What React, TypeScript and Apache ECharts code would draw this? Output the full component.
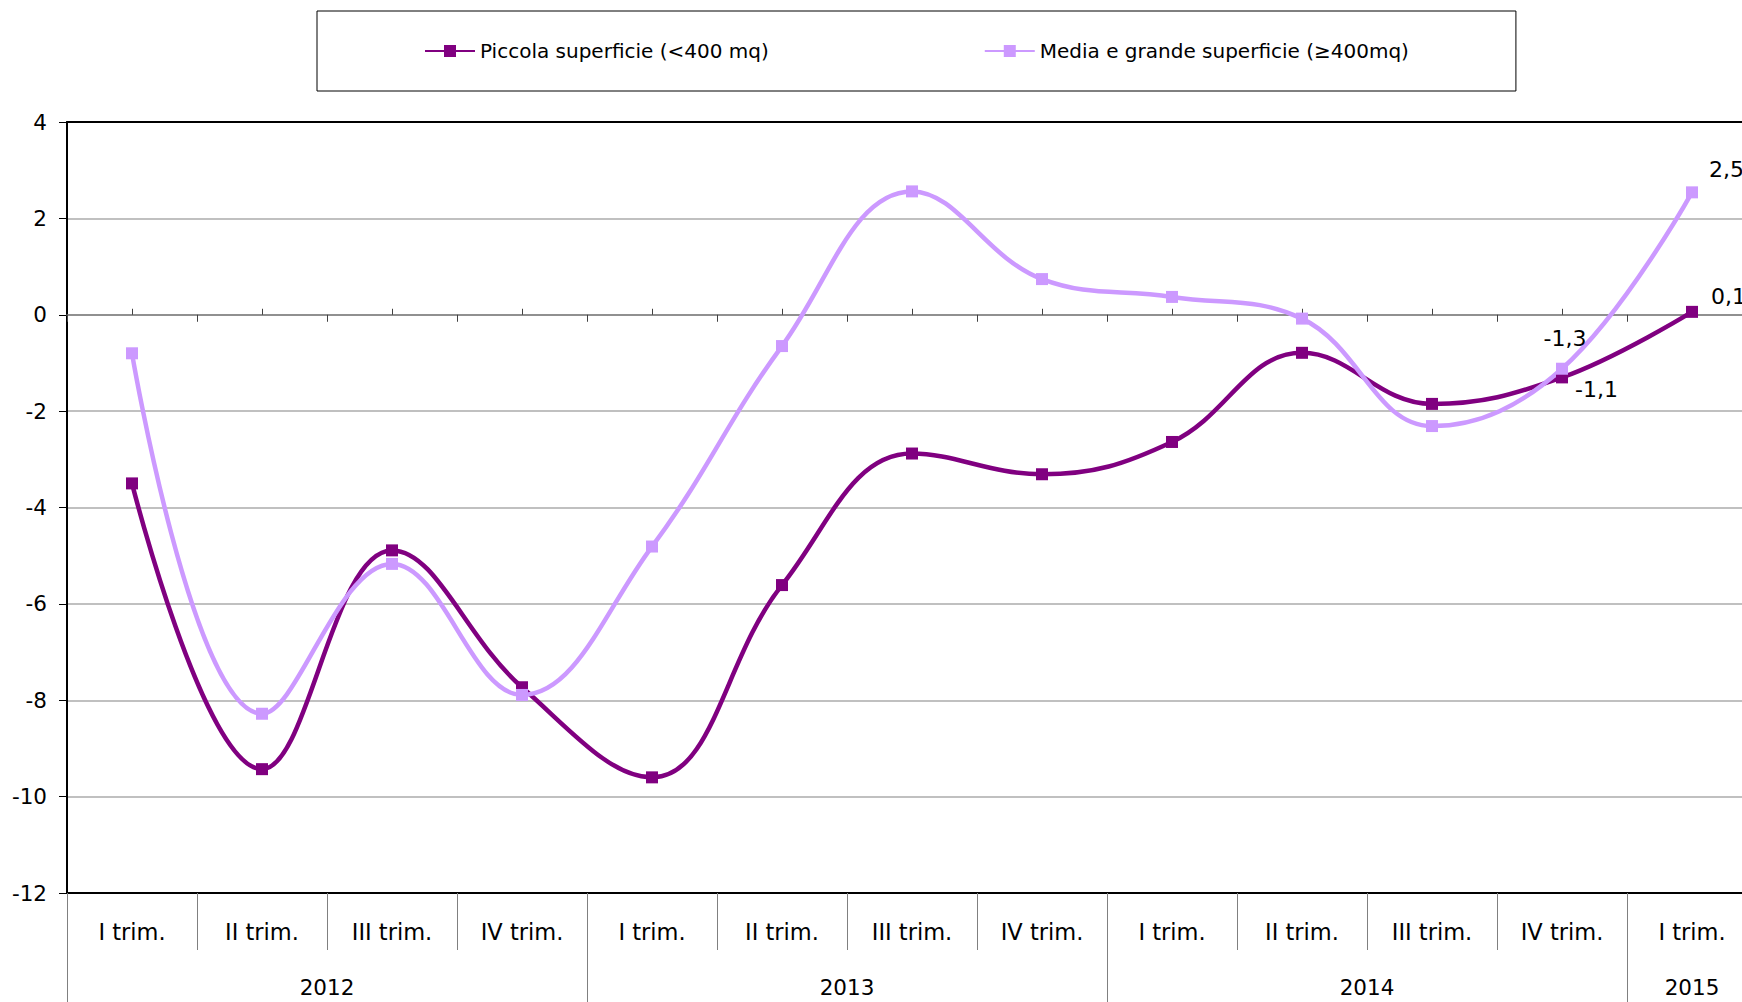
import React, { useEffect, useRef } from 'react';
import * as echarts from 'echarts';

// ---- data ----
const quarters = [
  'I trim.', 'II trim.', 'III trim.', 'IV trim.',
  'I trim.', 'II trim.', 'III trim.', 'IV trim.',
  'I trim.', 'II trim.', 'III trim.', 'IV trim.',
  'I trim.',
];
const years = ['2012', '2013', '2014', '2015'];
const quartersPerYear = [4, 4, 4, 1];
const seriesNames = ['Piccola superficie (<400 mq)', 'Media e grande superficie (≥400mq)'];
const piccola = [-3.5, -9.43, -4.89, -7.73, -9.6, -5.61, -2.88, -3.31, -2.64, -0.79, -1.85, -1.3, 0.06];
const media = [-0.8, -8.28, -5.17, -7.89, -4.81, -0.65, 2.56, 0.74, 0.37, -0.08, -2.31, -1.12, 2.54];
const yMin = -12;
const yMax = 4;
const yStep = 2;
const labelledIndexes = [11, 12];

// ---- styles ----
const FONT = 'DejaVu Sans';
const DARK = '#800080';
const LIGHT = '#CC99FF';
const piccolaLabelStyle: Record<number, any> = {
  11: { position: 'top', distance: 22, offset: [3, 0] },
  12: { position: 'right', distance: 13, offset: [0, -15] },
};
const mediaLabelStyle: Record<number, any> = {
  11: { position: 'right', distance: 7, offset: [0, 21] },
  12: { position: 'right', distance: 11, offset: [0, -23] },
};

const fmt = (v: number) => v.toFixed(1).replace('.', ',');

function buildData(values: number[], styles: Record<number, any>) {
  return values.map((v, i) =>
    labelledIndexes.includes(i) && styles[i]
      ? {
          value: v,
          label: {
            show: true,
            ...styles[i],
            formatter: () => fmt(v),
            fontSize: 22,
            color: '#000',
            fontFamily: FONT,
          },
        }
      : v
  );
}

export default function App() {
  const ref = useRef<HTMLDivElement>(null);
  useEffect(() => {
    if (!ref.current) return;
    document.body.style.margin = '0';
    const chart = echarts.init(ref.current, undefined, { renderer: 'svg' });

    const bounds: number[] = [0];
    quartersPerYear.forEach((n) => bounds.push(bounds[bounds.length - 1] + n));
    const centers = quartersPerYear.map((n, i) => bounds[i] + n / 2);
    const yearAt = (v: number) => {
      const idx = centers.findIndex((c) => Math.abs(c - v) < 1e-6);
      return idx >= 0 ? years[idx] : '';
    };

    const option: any = {
      animation: false,
      textStyle: { fontFamily: FONT },
      legend: {
        left: 317,
        top: 11,
        padding: [29, 107],
        itemGap: 215,
        itemWidth: 50,
        itemHeight: 15,
        borderColor: '#000',
        borderWidth: 1,
        textStyle: { fontSize: 20, color: '#000', lineHeight: 22, fontFamily: FONT },
        data: seriesNames,
      },
      grid: { left: 67, top: 122, width: 1690, height: 771, containLabel: false, outerBoundsMode: 'none' },
      xAxis: [
        {
          type: 'category',
          data: quarters,
          position: 'bottom',
          boundaryGap: true,
          axisLine: { onZero: false, lineStyle: { color: '#000', width: 2 } },
          axisTick: { show: true, interval: 0, alignWithLabel: false, length: 57, lineStyle: { color: '#808080', width: 1 } },
          axisLabel: { interval: 0, margin: 27, fontSize: 22.5, color: '#000', fontFamily: FONT },
          splitLine: { show: false },
          z: 3,
        },
        {
          type: 'value',
          min: 0,
          max: bounds[bounds.length - 1],
          position: 'bottom',
          axisLine: { show: false, onZero: false },
          axisTick: { show: true, customValues: bounds, length: 112, lineStyle: { color: '#808080', width: 1 } },
          axisLabel: { customValues: centers, formatter: (v: number) => yearAt(v), margin: 83, fontSize: 21.5, color: '#000', fontFamily: FONT },
          splitLine: { show: false },
          z: 3,
        },
        {
          type: 'category',
          data: quarters,
          position: 'bottom',
          boundaryGap: true,
          axisLine: { show: true, onZero: true, onZeroAxisIndex: 0, lineStyle: { color: '#808080', width: 1.5 } },
          axisTick: { show: true, interval: 0, inside: false, alignWithLabel: false, length: 7, lineStyle: { color: '#404040', width: 1 } },
          axisLabel: { show: false },
          splitLine: { show: false },
          z: 4,
        },
        {
          type: 'category',
          data: quarters,
          position: 'bottom',
          boundaryGap: true,
          axisLine: { show: false, onZero: true, onZeroAxisIndex: 0 },
          axisTick: { show: true, interval: 0, inside: true, alignWithLabel: true, length: 6, lineStyle: { color: '#404040', width: 1 } },
          axisLabel: { show: false },
          splitLine: { show: false },
          z: 4,
        },
        {
          type: 'category',
          data: quarters,
          position: 'top',
          axisLine: { show: true, onZero: false, lineStyle: { color: '#000', width: 2 } },
          axisTick: { show: false },
          axisLabel: { show: false },
          splitLine: { show: false },
          z: 4,
        },
      ],
      yAxis: {
        type: 'value',
        min: yMin,
        max: yMax,
        interval: yStep,
        axisLine: { show: true, onZero: false, lineStyle: { color: '#000', width: 2 } },
        axisTick: { show: true, length: 8, lineStyle: { color: '#000', width: 1 } },
        axisLabel: { margin: 20, fontSize: 21.5, color: '#000', fontFamily: FONT },
        splitLine: { show: true, lineStyle: { color: '#C0C0C0', width: 2 } },
        z: 3,
      },
      series: [
        {
          name: seriesNames[0],
          type: 'line',
          data: buildData(piccola, piccolaLabelStyle),
          smooth: 0.4,
          symbol: 'rect',
          symbolSize: 12,
          lineStyle: { color: DARK, width: 4.5 },
          itemStyle: { color: DARK },
          z: 5,
        },
        {
          name: seriesNames[1],
          type: 'line',
          data: buildData(media, mediaLabelStyle),
          smooth: 0.4,
          symbol: 'rect',
          symbolSize: 12,
          lineStyle: { color: LIGHT, width: 4.5 },
          itemStyle: { color: LIGHT },
          z: 5,
        },
      ],
    };
    chart.setOption(option);
    return () => chart.dispose();
  }, []);

  return (
    <div
      ref={ref}
      style={{ position: 'absolute', left: 0, top: 0, width: 1742, height: 1002, overflow: 'hidden' }}
    />
  );
}
